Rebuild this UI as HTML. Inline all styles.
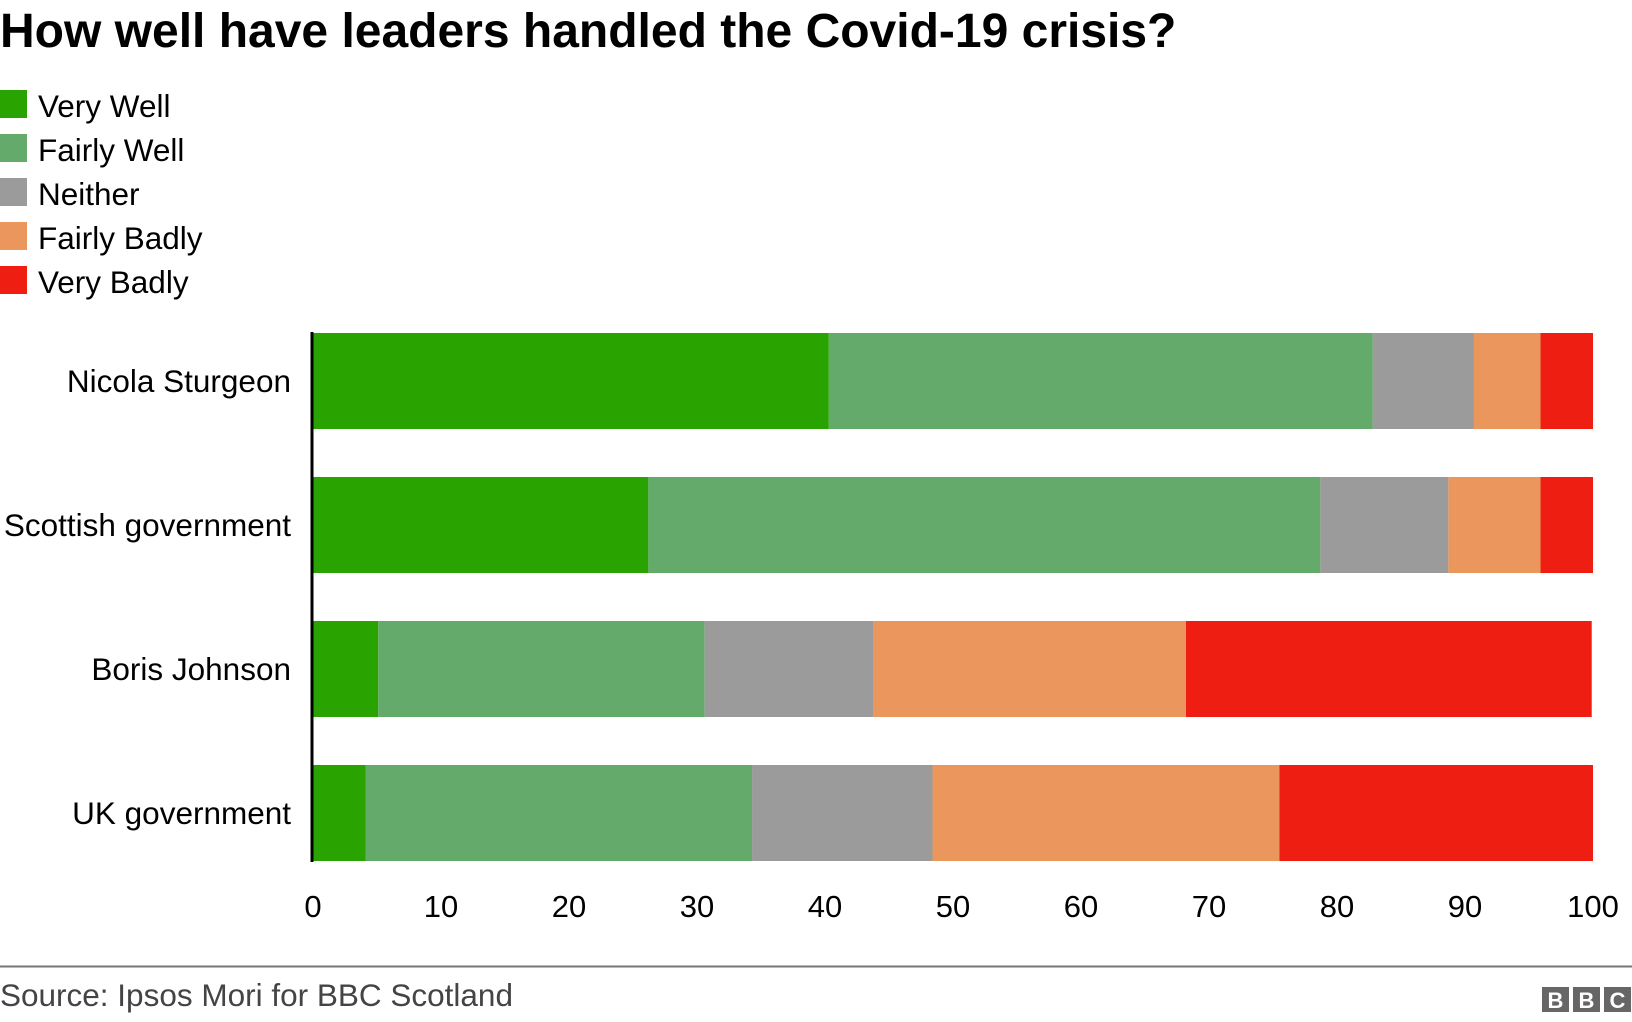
<!DOCTYPE html>
<html><head><meta charset="utf-8"><style>
body{margin:0;background:#fff;font-family:"Liberation Sans",Arial,sans-serif;}
svg{display:block}
</style></head><body>
<svg width="1632" height="1022" xmlns="http://www.w3.org/2000/svg" font-family="Liberation Sans, Arial, sans-serif">
<text x="0" y="47" font-size="48" font-weight="bold" fill="#000">How well have leaders handled the Covid-19 crisis?</text>
<g id="legend"></g>
<g id="bars"></g>
<g id="ticks"></g>
<line x1="312" y1="332" x2="312" y2="862" stroke="#000" stroke-width="3"/>
<line x1="0" y1="966.5" x2="1632" y2="966.5" stroke="#777" stroke-width="2"/>
<text x="0" y="1006" font-size="31.5" fill="#444">Source: Ipsos Mori for BBC Scotland</text>
<g font-size="22" font-weight="bold" fill="#fff" text-anchor="middle">
<rect x="1542" y="987" width="27" height="25" fill="#666"/><text x="1555.5" y="1008">B</text>
<rect x="1573" y="987" width="27" height="25" fill="#666"/><text x="1586.5" y="1008">B</text>
<rect x="1604" y="987" width="27" height="25" fill="#666"/><text x="1617.5" y="1008">C</text>
</g>
</svg>
<script>
const categories=["Nicola Sturgeon","Scottish government","Boris Johnson","UK government"];
const seriesNames=["Very Well","Fairly Well","Neither","Fairly Badly","Very Badly"];
const veryWell=[40.3,26.2,5.1,4.1];
const fairlyWell=[42.5,52.5,25.5,30.2];
const neither=[7.9,10,13.2,14.1];
const fairlyBadly=[5.2,7.2,24.4,27.1];
const veryBadly=[4.1,4.1,31.7,24.5];
const tickValues=[0,10,20,30,40,50,60,70,80,90,100];
const colors=["#28a300","#64aa6a","#9b9b9b","#eb965d","#ee1f12"];
const NS="http://www.w3.org/2000/svg";
const x=v=>313+v*12.8;
const yBand=i=>333+i*144;
const bandH=96;
const series=[veryWell,fairlyWell,neither,fairlyBadly,veryBadly];
function mk(tag,attrs,parent){const e=document.createElementNS(NS,tag);for(const k in attrs)e.setAttribute(k,attrs[k]);parent.appendChild(e);return e;}
const lg=document.getElementById('legend');
seriesNames.forEach((n,i)=>{
  const r=mk('rect',{x:0,y:90+i*44,width:27,height:28,fill:colors[i]},lg);
  
  
  const t=mk('text',{x:38,y:117+i*44,'font-size':31.5,fill:'#000'},lg);
  t.textContent=n;
  
  
});
const bg=document.getElementById('bars');
categories.forEach((c,i)=>{
  const t=mk('text',{x:291,y:yBand(i)+bandH/2+11,'font-size':31.5,'text-anchor':'end',fill:'#000'},bg);
  t.textContent=c;
  
  
  let acc=0;
  series.forEach((s,j)=>{
    const r=mk('rect',{x:x(acc),y:yBand(i),width:x(acc+s[i])-x(acc),height:bandH,fill:colors[j]},bg);
    
    
    acc+=s[i];
  });
});
const tg=document.getElementById('ticks');
tickValues.forEach(v=>{
  const t=mk('text',{x:x(v),y:917,'font-size':31,'text-anchor':'middle',fill:'#000'},tg);
  t.textContent=v;
  
  
});
</script>
</body></html>
